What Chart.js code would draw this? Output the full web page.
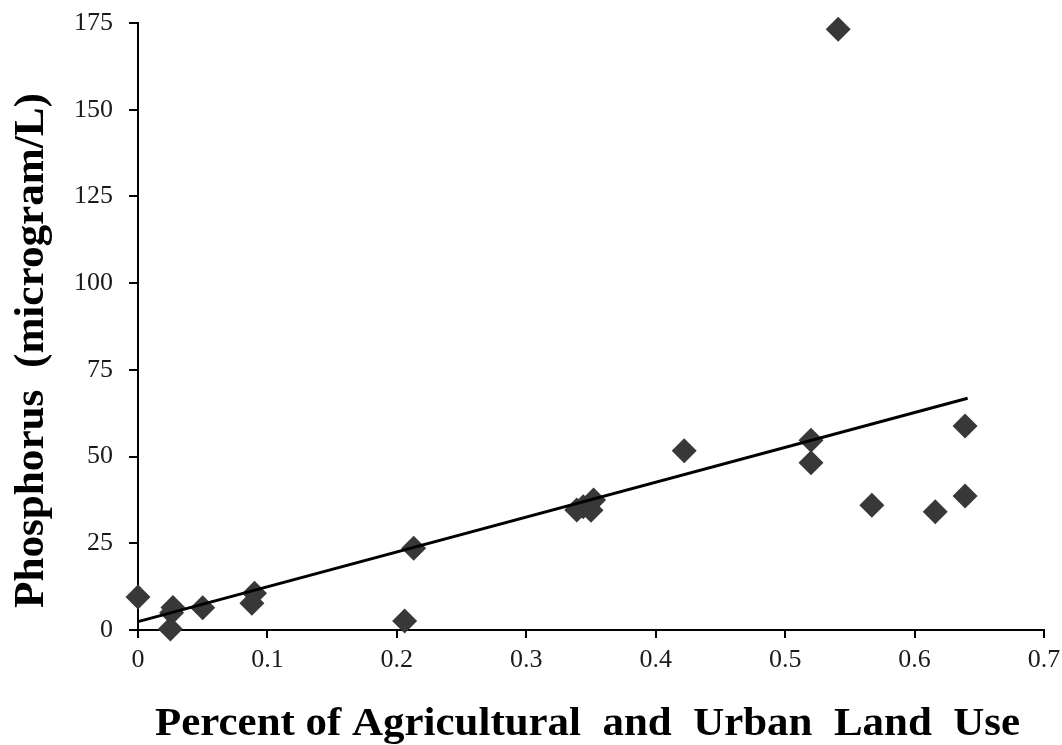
<!DOCTYPE html>
<html>
<head>
<meta charset="utf-8">
<script src="https://cdn.jsdelivr.net/npm/chart.js@4.4.1/dist/chart.umd.min.js"></script>
<style>
  html, body { margin: 0; padding: 0; background: #fff; }
  #wrap { width: 1062px; height: 745px; position: relative; }
</style>
</head>
<body>
<div id="wrap"><canvas id="c" width="1062" height="745"></canvas></div>
<script>
// ---- Data ----
const landUse = [0.000, 0.026, 0.027, 0.025, 0.050, 0.090, 0.088, 0.206, 0.213,
                 0.339, 0.344, 0.350, 0.352, 0.422, 0.520, 0.520, 0.541, 0.567,
                 0.616, 0.639, 0.639];
const phosphorus = [9.5, 5.0, 6.5, 0.3, 6.4, 10.6, 7.7, 2.6, 23.6,
                    34.6, 35.5, 34.5, 37.5, 51.7, 54.7, 48.2, 173.2, 36.0,
                    34.1, 38.6, 58.8];
const trendX = [0.0, 0.641];
const trendY = [2.4, 66.8];
const xTickLabels = ['0', '0.1', '0.2', '0.3', '0.4', '0.5', '0.6', '0.7'];
const yTickLabels = ['0', '25', '50', '75', '100', '125', '150', '175'];
const xTitle = 'Percent of Agricultural  and  Urban  Land  Use';
const yTitle = 'Phosphorus  (microgram/L)';

const scatterPts = landUse.map((x, i) => ({ x: x, y: phosphorus[i] }));
const trendPts = trendX.map((x, i) => ({ x: x, y: trendY[i] }));

const titlePlugin = {
  id: 'axisTitles',
  afterDraw(chart) {
    const ctx = chart.ctx;
    ctx.save();
    ctx.fillStyle = '#000';
    ctx.font = 'bold 41px "Liberation Serif", "Times New Roman", serif';
    ctx.textBaseline = 'alphabetic';
    // x title
    let w = ctx.measureText(xTitle).width;
    let target = 865;
    ctx.save();
    ctx.translate(155, 735);
    ctx.scale(target / w, 1);
    ctx.textAlign = 'left';
    ctx.fillText(xTitle, 0, 0);
    ctx.restore();
    // y title
    ctx.font = 'bold 43px "Liberation Serif", "Times New Roman", serif';
    w = ctx.measureText(yTitle).width;
    target = 515;
    ctx.save();
    ctx.translate(43, 608);
    ctx.rotate(-Math.PI / 2);
    ctx.scale(target / w, 1);
    ctx.textAlign = 'left';
    ctx.fillText(yTitle, 0, 0);
    ctx.restore();
    ctx.restore();
  }
};

const tickFont = { family: '"Liberation Serif", "Times New Roman", serif', size: 26 };

function zeroPad(s) { s.paddingTop = 0; s.paddingBottom = 0; s.paddingLeft = 0; s.paddingRight = 0; }

new Chart(document.getElementById('c'), {
  type: 'scatter',
  data: {
    datasets: [
      {
        type: 'line',
        data: trendPts,
        borderColor: '#000',
        borderWidth: 3,
        pointRadius: 0,
        fill: false,
        clip: false,
        order: 0
      },
      {
        type: 'scatter',
        data: scatterPts,
        pointStyle: 'rectRot',
        pointRadius: 12.5,
        backgroundColor: '#383838',
        borderColor: '#383838',
        borderWidth: 0,
        clip: false,
        order: 1
      }
    ]
  },
  options: {
    responsive: false,
    animation: false,
    layout: { padding: { left: 0, right: 18, top: 23, bottom: 0 } },
    plugins: { legend: { display: false }, tooltip: { enabled: false } },
    scales: {
      x: {
        type: 'linear',
        min: 0, max: 0.7,
        afterFit(s) { s.height = 115; zeroPad(s); },
        afterBuildTicks(s) { s.ticks = xTickLabels.map((t, i) => ({ value: i * 0.1 })); },
        ticks: {
          callback: (v, i) => xTickLabels[i],
          font: tickFont, color: '#1a1a1a', padding: 7, maxRotation: 0, autoSkip: false
        },
        grid: { drawOnChartArea: false, drawTicks: true, tickLength: 8, color: '#000', lineWidth: 2 },
        border: { display: true, color: '#000', width: 2 }
      },
      y: {
        type: 'linear',
        min: 0, max: 175,
        afterFit(s) { s.width = 138; zeroPad(s); },
        afterBuildTicks(s) { s.ticks = yTickLabels.map((t, i) => ({ value: i * 25 })); },
        ticks: {
          callback: (v, i) => yTickLabels[i],
          font: tickFont, color: '#1a1a1a', padding: 16, autoSkip: false
        },
        grid: { drawOnChartArea: false, drawTicks: true, tickLength: 9, color: '#000', lineWidth: 2 },
        border: { display: true, color: '#000', width: 2 }
      }
    }
  },
  plugins: [titlePlugin]
});
</script>
</body>
</html>
